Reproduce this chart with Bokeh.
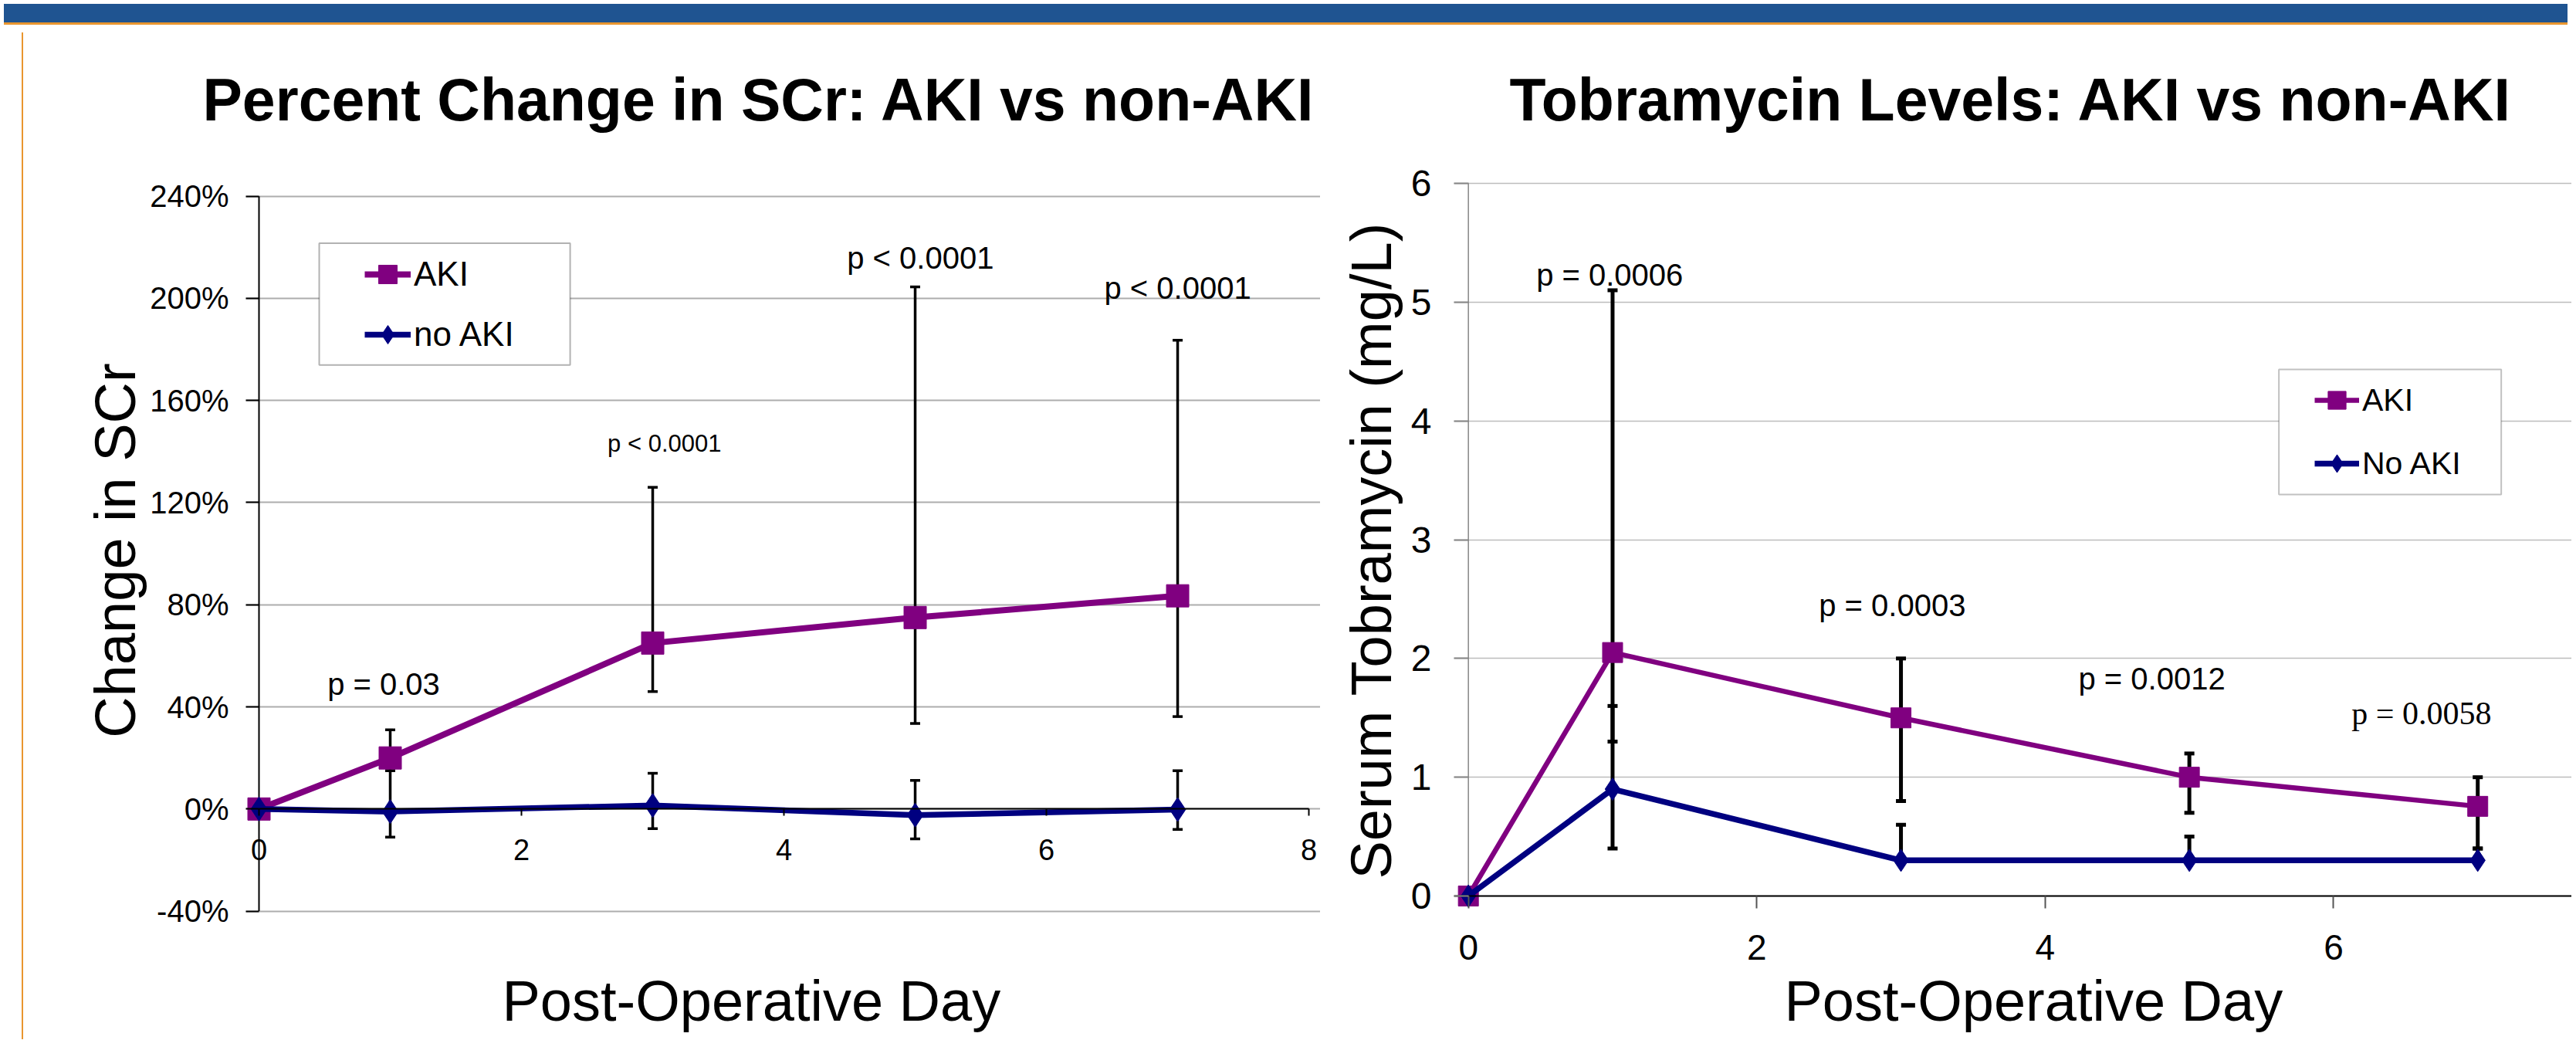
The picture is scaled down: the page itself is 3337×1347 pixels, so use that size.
from bokeh.plotting import figure
from bokeh.models import (Range1d, FixedTicker, NumeralTickFormatter, Legend, LegendItem,
                          BoxAnnotation, Div, Title)
from bokeh.layouts import row, column
from bokeh.embed import file_html
from bokeh.resources import INLINE
from bokeh.core.properties import value

# ---------------- data ----------------
days = [0, 1, 3, 5, 7]
err_days = [1, 3, 5, 7]

# Percent change in SCr (fractions)
scr_aki = [0.0, 0.20, 0.65, 0.75, 0.835]
scr_aki_hi = [0.31, 1.26, 2.045, 1.836]
scr_aki_lo = [0.15, 0.46, 0.335, 0.362]
scr_noaki = [0.0, -0.01, 0.014, -0.024, -0.002]
scr_noaki_hi = [0.15, 0.14, 0.112, 0.15]
scr_noaki_lo = [-0.11, -0.077, -0.117, -0.08]

# Tobramycin levels (mg/L)
tob_aki = [0.0, 2.05, 1.5, 1.0, 0.755]
tob_aki_hi = [5.1, 2.0, 1.2, 1.0]
tob_aki_lo = [1.3, 0.8, 0.7, 0.4]
tob_noaki = [0.0, 0.9, 0.3, 0.3, 0.3]
tob_noaki_hi = [1.6, 0.6, 0.5, 0.4]
tob_noaki_lo = [0.4, 0.3, 0.3, 0.3]

scr_p_text = ["p = 0.03", "p < 0.0001", "p < 0.0001", "p < 0.0001"]
scr_p_day = [0.95, 3.09, 5.04, 7.0]
scr_p_y = [0.488, 1.43, 2.16, 2.04]

tob_p_text = ["p = 0.0006", "p = 0.0003", "p = 0.0012", "p = 0.0058"]
tob_p_day = [0.98, 2.94, 4.74, 6.61]
tob_p_y = [5.23, 2.45, 1.83, 1.535]

scr_yticks = [-0.4, 0.0, 0.4, 0.8, 1.2, 1.6, 2.0, 2.4]
scr_xticks = [0, 2, 4, 6, 8]
tob_yticks = [0, 1, 2, 3, 4, 5, 6]
tob_xticks = [0, 2, 4, 6]

# ---------------- styles ----------------
FONT = "Liberation Sans"
SERIF = "Liberation Serif"
AKI_C = "#800080"
NO_C = "#000080"
BLUE = "#1F5491"
ORANGE = "#E9962F"

H = 1304
TOP = 134
BOTTOM = 87


def make_fig(width, xr, yr, ml):
    p = figure(width=width, height=H, x_range=Range1d(*xr), y_range=Range1d(*yr),
               toolbar_location=None, output_backend="svg",
               min_border_left=ml, min_border_right=0, min_border_top=TOP, min_border_bottom=BOTTOM)
    p.outline_line_color = None
    p.background_fill_color = "white"
    p.border_fill_color = "white"
    p.xgrid.visible = False
    return p


def style_axis(ax, ticks, fsize, tick_in, tick_out, standoff, line_color, line_width, tick_color):
    ax.ticker = FixedTicker(ticks=ticks)
    ax.major_tick_out = tick_out
    ax.major_tick_in = tick_in
    ax.minor_tick_out = 0
    ax.minor_tick_in = 0
    ax.axis_line_color = line_color
    ax.axis_line_width = line_width
    ax.major_tick_line_color = tick_color
    ax.major_tick_line_width = 2
    ax.major_label_text_font = FONT
    ax.major_label_text_font_size = fsize
    ax.major_label_text_color = "black"
    ax.major_label_standoff = standoff


def set_title(p, text, offset):
    p.title.text = text
    p.title.align = "left"
    p.title.offset = offset
    p.title.standoff = 0
    p.title.vertical_align = "bottom"
    p.title.text_font = FONT
    p.title.text_font_style = "bold"
    p.title.text_font_size = "77px"
    p.title.text_color = "black"


def add_xlabel(p, text, offset):
    p.add_layout(Title(text=text, align="left", offset=offset, standoff=0,
                       vertical_align="top", text_font=FONT, text_font_style="normal",
                       text_font_size="74px", text_color="black"), "below")


def draw_series(p, y_aki, y_no, aki_hi, aki_lo, no_hi, no_lo, err_w, lw_aki, lw_no, sq, dm):
    for hi, lo in ((aki_hi, aki_lo), (no_hi, no_lo)):
        p.segment(x0=err_days, y0=lo, x1=err_days, y1=hi, line_color="black", line_width=err_w)
        p.scatter(x=err_days + err_days, y=lo + hi, marker="dash", size=13,
                  line_color="black", line_width=err_w)
    l1 = p.line(days, y_aki, line_color=AKI_C, line_width=lw_aki)
    m1 = p.scatter(days, y_aki, marker="square", size=sq, fill_color=AKI_C, line_color=AKI_C)
    l2 = p.line(days, y_no, line_color=NO_C, line_width=lw_no)
    m2 = p.scatter(days, y_no, marker="diamond", size=dm, fill_color=NO_C, line_color=NO_C)
    return (l1, m1), (l2, m2)


# ---------------- left chart ----------------
p1 = make_fig(1675, (-0.1, 8.088), (-0.625, 2.650), 283)
ya = p1.yaxis[0]
style_axis(ya, scr_yticks, "40px", 17, 0, 22, None, 2, "black")
ya.formatter = NumeralTickFormatter(format="0%")
ya.axis_label = "Change in SCr"
ya.axis_label_text_font = FONT
ya.axis_label_text_font_size = "74px"
ya.axis_label_text_font_style = "normal"
ya.axis_label_text_color = "black"
ya.axis_label_standoff = 0
xa = p1.xaxis[0]
style_axis(xa, scr_xticks, "38px", 0, 9, 30, "black", 2, "black")
xa.fixed_location = 0
xa.bounds = (scr_xticks[0], scr_xticks[-1])
p1.ygrid.ticker = ya.ticker
p1.ygrid.grid_line_color = "#ADADAD"
p1.ygrid.grid_line_width = 2
# vertical axis line at day 0, spanning the tick range
p1.segment(x0=[0], y0=[scr_yticks[0]], x1=[0], y1=[scr_yticks[-1]], line_color="black", line_width=2)

a1, n1 = draw_series(p1, scr_aki, scr_noaki, scr_aki_hi, scr_aki_lo, scr_noaki_hi, scr_noaki_lo,
                     3.5, 8, 7.5, 29, 31)

for i, (t, x, y) in enumerate(zip(scr_p_text, scr_p_day, scr_p_y)):
    p1.text(x=[x], y=[y], text=[t], text_font=value(FONT),
            text_font_size="31px" if i == 1 else "40px",
            text_align="center", text_baseline="alphabetic", text_color="black")

p1.add_layout(BoxAnnotation(left=0.459, right=2.371, top=2.216, bottom=1.739,
                            fill_color="white", fill_alpha=1.0, line_color="black", line_width=2))
leg1 = Legend(items=[LegendItem(label="AKI", renderers=list(a1)),
                     LegendItem(label="no AKI", renderers=list(n1))],
              location=(154, 789), orientation="vertical", padding=0, spacing=14,
              glyph_width=60, glyph_height=64, label_standoff=4,
              label_text_font=FONT, label_text_font_size="44px", label_text_color="black",
              border_line_color=None, background_fill_alpha=0)
p1.add_layout(leg1)

set_title(p1, "Percent Change in SCr: AKI vs non-AKI", -56)
add_xlabel(p1, "Post-Operative Day", 332)

# ---------------- right chart ----------------
p2 = make_fig(1621, (-0.1, 7.652), (-0.611, 6.429), 173)
yb = p2.yaxis[0]
style_axis(yb, tob_yticks, "48px", 19, 0, 29, None, 1.5, "#868686")
yb.axis_label = "Serum Tobramycin (mg/L)"
yb.axis_label_text_font = FONT
yb.axis_label_text_font_size = "74px"
yb.axis_label_text_font_style = "normal"
yb.axis_label_text_color = "black"
yb.axis_label_standoff = 7
xb = p2.xaxis[0]
style_axis(xb, tob_xticks, "46px", 0, 16, 34, "black", 2, "#555555")
xb.fixed_location = 0
p2.ygrid.ticker = yb.ticker
p2.ygrid.grid_line_color = "#BDBDBD"
p2.ygrid.grid_line_width = 1.5
p2.segment(x0=[0], y0=[tob_yticks[0]], x1=[0], y1=[tob_yticks[-1]], line_color="#868686", line_width=1.5)

a2, n2 = draw_series(p2, tob_aki, tob_noaki, tob_aki_hi, tob_aki_lo, tob_noaki_hi, tob_noaki_lo,
                     5, 6.5, 7.5, 26, 29)

for i, (t, x, y) in enumerate(zip(tob_p_text, tob_p_day, tob_p_y)):
    p2.text(x=[x], y=[y], text=[t], text_font=value(SERIF if i == 3 else FONT),
            text_font_size="42px" if i == 3 else "40px",
            text_align="center", text_baseline="alphabetic", text_color="black")

p2.add_layout(BoxAnnotation(left=5.621, right=7.163, top=4.434, bottom=3.381,
                            fill_color="white", fill_alpha=1.0, line_color="#333333", line_width=2))
leg2 = Legend(items=[LegendItem(label="AKI", renderers=list(a2)),
                     LegendItem(label="No AKI", renderers=list(n2))],
              location=(1115, 622), orientation="vertical", padding=0, spacing=18,
              glyph_width=58, glyph_height=64, label_standoff=4,
              label_text_font=FONT, label_text_font_size="41px", label_text_color="black",
              border_line_color=None, background_fill_alpha=0)
p2.add_layout(leg2)

set_title(p2, "Tobramycin Levels: AKI vs non-AKI", 72)
add_xlabel(p2, "Post-Operative Day", 428)

# ---------------- page frame ----------------
header = Div(text="", width=3321, height=27,
             styles={"background": f"linear-gradient(to bottom, {BLUE} 0px, {BLUE} 24px, {ORANGE} 24px, {ORANGE} 27px)"})
spacer = Div(text="", width=25, height=H,
             styles={"background": f"linear-gradient(to right, #ffffff 0px, #ffffff 23px, {ORANGE} 23px, {ORANGE} 25px)"})

layout = column(header, row(spacer, p1, p2))

open("out.html", "w").write(file_html(layout, INLINE))
